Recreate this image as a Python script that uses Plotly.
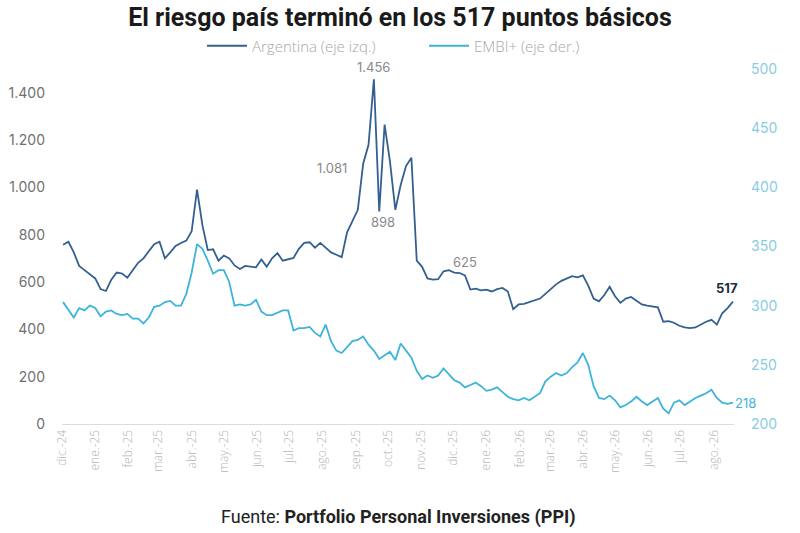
import pandas as pd
import plotly.graph_objects as go

# serie cada 5 días, desde el 2-dic-2024
fechas = pd.date_range("2024-12-02", periods=126, freq="5D")

argentina = [
    757, 770, 725, 668, 650, 632, 615, 570, 562, 610,
    640, 636, 618, 650, 681, 700, 728, 760, 770, 700,
    725, 752, 765, 775, 815, 990, 840, 735, 738, 690,
    712, 700, 670, 655, 668, 665, 662, 695, 665, 700,
    722, 690, 695, 702, 740, 765, 768, 745, 765, 745,
    725, 715, 705, 810, 860, 905, 1100, 1180, 1456, 898,
    1265, 1110, 905, 1010, 1090, 1125, 690, 664, 615, 610,
    612, 645, 650, 640, 638, 628, 568, 572, 565, 568,
    560, 570, 575, 560, 485, 505, 508, 515, 520, 530,
    550, 570, 590, 605, 615, 625, 620, 628, 585, 530,
    518, 545, 580, 540, 512, 530, 537, 520, 505, 500,
    495, 493, 432, 435, 428, 415, 408, 405, 408, 420,
    432, 440, 420, 468, 490, 517,
]

embi = [
    303, 297, 290, 298, 296, 300, 298, 291, 295, 296,
    293, 292, 293, 289, 289, 285, 290, 299, 300, 303,
    304, 300, 300, 310, 328, 352, 348, 338, 327, 330,
    330, 320, 300, 301, 300, 301, 305, 295, 292, 292,
    294, 296, 296, 279, 281, 281, 282, 277, 274, 284,
    270, 262, 260, 265, 270, 271, 274, 267, 262, 255,
    258, 261, 254, 268, 262, 256, 245, 238, 241, 239,
    241, 247, 242, 237, 235, 231, 233, 235, 232, 228,
    229, 231, 227, 223, 221, 220, 222, 220, 223, 226,
    236, 240, 243, 241, 243, 248, 252, 260, 250, 232,
    222, 221, 224, 220, 214, 216, 219, 223, 219, 216,
    219, 222, 213, 209, 218, 220, 216, 219, 222, 224,
    226, 229, 222, 218, 217, 218,
]

meses = ["dic.-24", "ene.-25", "feb.-25", "mar.-25", "abr.-25", "may.-25",
         "jun.-25", "jul.-25", "ago.-25", "sep.-25", "oct.-25", "nov.-25",
         "dic.-25", "ene.-26", "feb.-26", "mar.-26", "abr.-26", "may.-26",
         "jun.-26", "jul.-26", "ago.-26"]
inicio_meses = pd.date_range("2024-12-01", periods=len(meses), freq="MS")

AZUL = "#33608f"
CELESTE = "#3db4d9"

fig = go.Figure()
fig.add_trace(go.Scatter(x=fechas, y=argentina, name="Argentina (eje izq.)",
                         mode="lines", line=dict(color=AZUL, width=1.8)))
fig.add_trace(go.Scatter(x=fechas, y=embi, name="EMBI+ (eje der.)", yaxis="y2",
                         mode="lines", line=dict(color=CELESTE, width=1.8)))

gris = dict(size=13, color="#8a8a8a", family="Inter")
notas = [
    dict(x=fechas[58], y=1456, text="1.456", yanchor="bottom", yshift=2),
    dict(x=fechas[56], y=1081, text="1.081", xanchor="right", xshift=-14),
    dict(x=fechas[59], y=898, text="898", yanchor="top", yshift=-1, xshift=4),
    dict(x=fechas[75], y=628, text="625", yanchor="bottom", yshift=3),
]
for n in notas:
    fig.add_annotation(showarrow=False, font=gris, **n)

fig.add_annotation(x=fechas[-1], y=argentina[-1], text="<b>517</b>", showarrow=False,
                   yanchor="bottom", yshift=4, xshift=-6,
                   font=dict(size=13, color="#1f2d40", family="Inter"))
fig.add_annotation(x=fechas[-1], y=embi[-1], yref="y2", text="218", showarrow=False,
                   xanchor="left", xshift=0,
                   font=dict(size=13, color=CELESTE, family="Inter"))

fig.add_annotation(x=0.5, y=(424 - 517) / 355, xref="paper", yref="paper", showarrow=False,
                   yanchor="middle",
                   text="Fuente: <b>Portfolio Personal Inversiones (PPI)</b>",
                   font=dict(size=18, color="#222", family="Roboto"))

fig.update_layout(
    width=800, height=533,
    paper_bgcolor="white", plot_bgcolor="white",
    separators=",.",
    margin=dict(l=62, r=66, t=69, b=109, autoexpand=False),
    title=dict(text="<b>El riesgo país terminó en los 517 puntos básicos</b>",
               x=0.5, xanchor="center", y=1 - 17 / 533, yanchor="middle",
               font=dict(size=25, color="#1a1a1a", family="Roboto")),
    legend=dict(orientation="h", x=(202 - 62) / 672, xanchor="left", yref="container",
                y=1 - 46 / 533, yanchor="middle",
                font=dict(size=15, color="#a8a8a8", family="Open Sans", weight=300),
                itemwidth=40, entrywidth=167, entrywidthmode="pixels",
                traceorder="normal"),
    xaxis=dict(range=["2024-12-01", "2026-08-20"], tickvals=inicio_meses, ticktext=meses,
               tickangle=-90,
               tickfont=dict(size=12, color="#b5b5b5", family="Open Sans", weight=300),
               showgrid=False, showline=True, linecolor="#dcdcdc", ticks="",
               zeroline=False, automargin=False),
    yaxis=dict(range=[0, 1500], tickvals=list(range(0, 1401, 200)), showgrid=False,
               zeroline=False, separatethousands=True, automargin=False,
               tickfont=dict(size=14, color="#707070", family="Inter"),
               ticklabelstandoff=16),
    yaxis2=dict(range=[200, 500], dtick=50, overlaying="y", side="right",
                showgrid=False, zeroline=False, automargin=False,
                tickfont=dict(size=14, color="#86cde3", family="Inter"),
                ticklabelstandoff=16),
)

fig.write_html("out.html", config={"displayModeBar": False},
               post_script="document.body.style.margin='0';")
